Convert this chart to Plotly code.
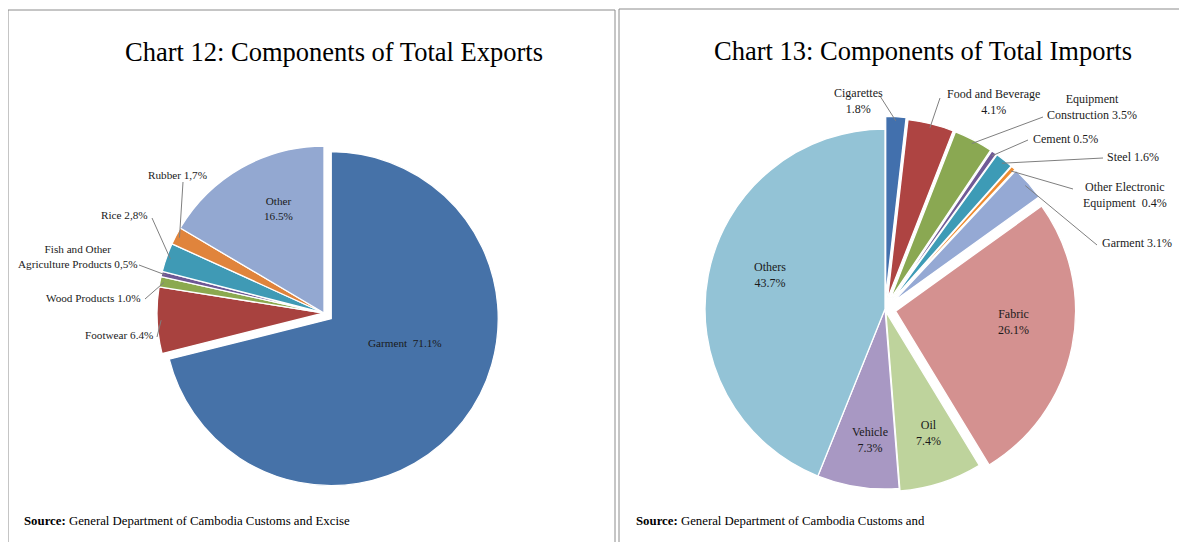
import math
import plotly.graph_objects as go

# window size and the browser's default page margin around the figure
WIN_W, WIN_H = 1187, 542
OFF = 8
W, H = WIN_W - OFF, WIN_H - OFF

# ---------------- data ----------------
exp_names = ["Garment", "Footwear", "Wood Products", "Fish and Other Agriculture Products",
             "Rice", "Rubber", "Other"]
exp_values = [71.1, 6.4, 1.0, 0.5, 2.8, 1.7, 16.5]
exp_text = ["Garment  71.1%", "Footwear 6.4%", "Wood Products 1.0%",
            "Fish and Other<br>Agriculture Products 0,5%", "Rice 2,8%", "Rubber 1,7%",
            "Other<br>16.5%"]

imp_names = ["Cigarettes", "Food and Beverage", "Equipment Construction", "Cement", "Steel",
             "Other Electronic Equipment", "Garment", "Fabric", "Oil", "Vehicle", "Others"]
imp_values = [1.8, 4.1, 3.5, 0.5, 1.6, 0.4, 3.1, 26.1, 7.4, 7.3, 43.7]
imp_text = ["Cigarettes<br>1.8%", "Food and Beverage<br>4.1%", "Equipment<br>Construction 3.5%",
            "Cement 0.5%", "Steel 1.6%", "Other Electronic<br>Equipment  0.4%", "Garment 3.1%",
            "Fabric<br>26.1%", "Oil<br>7.4%", "Vehicle<br>7.3%", "Others<br>43.7%"]

title_left = "Chart 12: Components of Total Exports"
title_right = "Chart 13: Components of Total Imports"
source_left = "<b>Source:</b> General Department of Cambodia Customs and Excise"
source_right = "<b>Source:</b> General Department of Cambodia Customs and"

# ---------------- styles / layout ----------------
exp_colors = ["#4672A8", "#A8423F", "#8BA94F", "#6E5895", "#3F9AB5", "#E0843C", "#93A8D1"]
imp_colors = ["#4270AD", "#AE4442", "#8AA852", "#705A96", "#3D9BB6", "#EE8B30", "#95A9D4",
              "#D49190", "#BED39C", "#A898C3", "#93C3D6"]
exp_pull = [0.055, 0, 0, 0, 0, 0, 0]
imp_pull = [0.07, 0.06, 0.06, 0.06, 0.06, 0.06, 0.06, 0.06, 0.015, 0, 0]

# pie geometry in window pixels (center, base radius)
L_CX, L_CY, L_R = 324, 313, 167
R_CX, R_CY, R_R = 885, 309, 180

# label placement in window pixels: (x, y, xanchor, leader-start or None)
exp_lab = [(405, 343, "center", None),
           (155, 335, "right", (157, 337)),
           (143, 298, "right", (145, 299)),
           (78, 256, "center", (139, 265)),
           (150, 215, "right", (152, 218)),
           (177, 175, "center", (183, 182)),
           (278, 208, "center", None)]
imp_lab = [(858, 101, "center", (880, 96)),
           (993, 102, "center", (940, 98)),
           (1092, 107, "center", (1043, 117)),
           (1031, 139, "left", (1028, 140)),
           (1105, 157, "left", (1103, 158)),
           (1125, 195, "center", (1073, 189)),
           (1100, 243, "left", (1097, 245)),
           (1013, 322, "center", None),
           (928, 433, "center", None),
           (870, 440, "center", None),
           (770, 275, "center", None)]

SERIF = "Liberation Serif, Times New Roman, serif"
TXT = "#1a1a1a"
LINE = "#7f7f7f"


def px(x):
    return (x - OFF) / W


def py(y):
    return 1 - (y - OFF) / H


def domain(cx, cy, r, pulls):
    half = r * (1 + max(pulls))
    return dict(x=[px(cx - half), px(cx + half)], y=[py(cy + half), py(cy - half)])


def slice_point(values, i, cx, cy, r, pulls, inset=4):
    total = sum(values)
    start = sum(values[:i]) / total * 360
    mid = math.radians(start + values[i] / total * 180)
    dist = r * (1 + pulls[i]) - inset
    return cx + dist * math.sin(mid), cy - dist * math.cos(mid)


fig = go.Figure()
fig.add_trace(go.Pie(labels=exp_names, values=exp_values, sort=False, direction="clockwise",
                     rotation=0, pull=exp_pull, textinfo="none", showlegend=False,
                     marker=dict(colors=exp_colors, line=dict(color="white", width=1.3)),
                     domain=domain(L_CX, L_CY, L_R, exp_pull)))
fig.add_trace(go.Pie(labels=imp_names, values=imp_values, sort=False, direction="clockwise",
                     rotation=0, pull=imp_pull, textinfo="none", showlegend=False,
                     marker=dict(colors=imp_colors, line=dict(color="white", width=1.3)),
                     domain=domain(R_CX, R_CY, R_R, imp_pull)))

annotations = []
shapes = []


def add_labels(texts, labs, values, cx, cy, r, pulls, size):
    for i, (t, (x, y, anc, lead)) in enumerate(zip(texts, labs)):
        annotations.append(dict(text=t, x=px(x), y=py(y), xref="paper", yref="paper",
                                xanchor=anc, yanchor="middle", align="center", showarrow=False,
                                font=dict(family=SERIF, size=size, color=TXT)))
        if lead is not None:
            ex, ey = slice_point(values, i, cx, cy, r, pulls)
            shapes.append(dict(type="line", xref="paper", yref="paper",
                               x0=px(lead[0]), y0=py(lead[1]), x1=px(ex), y1=py(ey),
                               line=dict(color=LINE, width=1)))


add_labels(exp_text, exp_lab, exp_values, L_CX, L_CY, L_R, exp_pull, 11.2)
add_labels(imp_text, imp_lab, imp_values, R_CX, R_CY, R_R, imp_pull, 12)

# titles and sources
annotations += [
    dict(text=title_left, x=px(334), y=py(52), xref="paper", yref="paper", showarrow=False,
         xanchor="center", yanchor="middle", font=dict(family=SERIF, size=26.5, color="#000")),
    dict(text=title_right, x=px(923), y=py(51), xref="paper", yref="paper", showarrow=False,
         xanchor="center", yanchor="middle", font=dict(family=SERIF, size=26.5, color="#000")),
    dict(text=source_left, x=px(22), y=py(521), xref="paper", yref="paper", showarrow=False,
         xanchor="left", yanchor="middle", font=dict(family=SERIF, size=12.8, color="#000")),
    dict(text=source_right, x=px(634), y=py(521), xref="paper", yref="paper", showarrow=False,
         xanchor="left", yanchor="middle", font=dict(family=SERIF, size=12.8, color="#000")),
]

# panel frames
frame = dict(color="#8c8c8c", width=1)
for (x0, y0, x1, y1) in [(8, 10, 8, WIN_H), (8, 10, 615, 10), (615, 10, 615, WIN_H),
                         (619, 9, 619, WIN_H), (619, 9, WIN_W, 9)]:
    shapes.append(dict(type="line", xref="paper", yref="paper", x0=px(x0), y0=py(y0),
                       x1=px(x1), y1=py(y1), line=frame))

fig.update_layout(width=W, height=H, margin=dict(l=0, r=0, t=0, b=0),
                  paper_bgcolor="white", plot_bgcolor="white",
                  annotations=annotations, shapes=shapes)

fig.write_html("out.html")
